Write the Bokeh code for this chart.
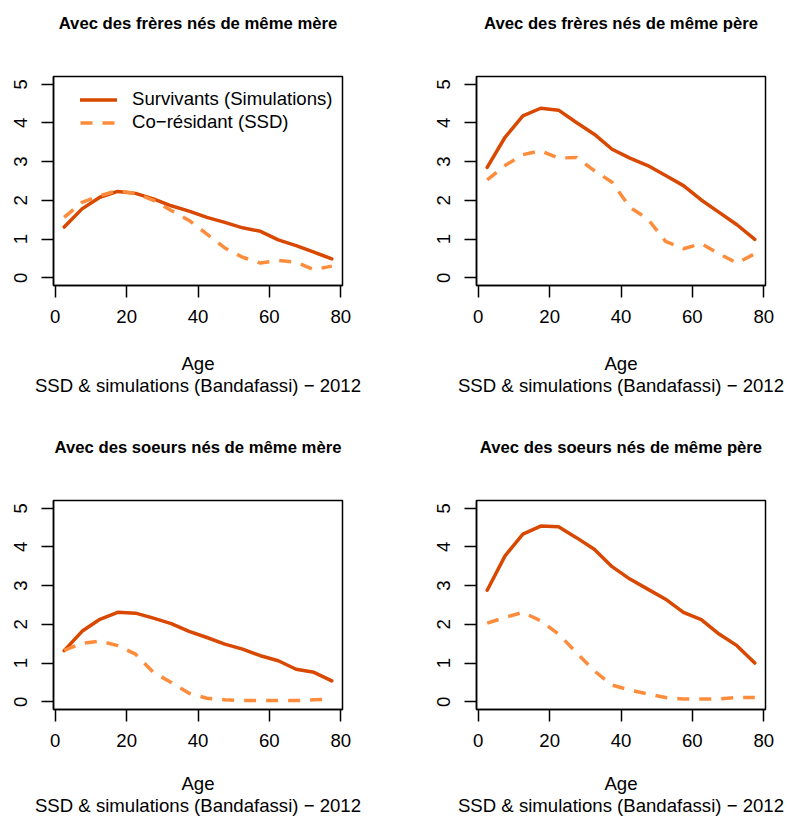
from bokeh.plotting import figure
from bokeh.models import Range1d, FixedTicker, Legend, LegendItem, LinearAxis
from bokeh.layouts import column, row
from bokeh.embed import file_html
from bokeh.resources import INLINE

ages = [2.5, 7.5, 12.5, 17.5, 22.5, 27.5, 32.5, 37.5, 42.5, 47.5, 52.5, 57.5, 62.5, 67.5, 72.5, 77.5]

freres_mere_surv = [1.31, 1.78, 2.08, 2.23, 2.18, 2.04, 1.86, 1.72, 1.56, 1.43, 1.29, 1.20, 0.98, 0.83, 0.66, 0.49]
freres_mere_cores = [1.56, 1.95, 2.12, 2.25, 2.18, 2.00, 1.74, 1.48, 1.13, 0.77, 0.53, 0.38, 0.45, 0.40, 0.21, 0.30]

freres_pere_surv = [2.85, 3.63, 4.18, 4.38, 4.33, 4.01, 3.71, 3.32, 3.09, 2.90, 2.64, 2.38, 2.01, 1.69, 1.37, 0.99]
freres_pere_cores = [2.53, 2.90, 3.18, 3.28, 3.09, 3.11, 2.77, 2.47, 1.82, 1.52, 0.94, 0.75, 0.88, 0.62, 0.38, 0.62]

soeurs_mere_surv = [1.32, 1.82, 2.13, 2.31, 2.29, 2.16, 2.02, 1.82, 1.66, 1.49, 1.36, 1.19, 1.06, 0.84, 0.76, 0.54]
soeurs_mere_cores = [1.33, 1.51, 1.57, 1.45, 1.23, 0.76, 0.50, 0.22, 0.09, 0.05, 0.03, 0.03, 0.03, 0.03, 0.05, 0.07]

soeurs_pere_surv = [2.88, 3.77, 4.33, 4.54, 4.52, 4.24, 3.94, 3.49, 3.17, 2.91, 2.65, 2.31, 2.12, 1.75, 1.45, 1.00]
soeurs_pere_cores = [2.03, 2.18, 2.31, 2.09, 1.75, 1.27, 0.80, 0.43, 0.30, 0.20, 0.11, 0.07, 0.07, 0.07, 0.11, 0.11]

titles = [
    "Avec des frères nés de même mère",
    "Avec des frères nés de même père",
    "Avec des soeurs nés de même mère",
    "Avec des soeurs nés de même père",
]
series_names = ["Survivants (Simulations)", "Co−résidant (SSD)"]
x_label = "Age"
source_label = "SSD & simulations (Bandafassi) − 2012"
x_ticks = [0, 20, 40, 60, 80]
y_ticks = [0, 1, 2, 3, 4, 5]

DARK = "#D94801"
LIGHT = "#FD8D3C"
FONT = "Liberation Sans"
TXT = "18.6px"


def text_axis(label, size, style, standoff):
    ax = LinearAxis(ticker=FixedTicker(ticks=[]), axis_label=label,
                    axis_line_color=None, major_tick_out=0, major_tick_in=0,
                    minor_tick_out=0, minor_tick_in=0, major_label_standoff=0,
                    axis_label_standoff=standoff, axis_label_text_font=FONT,
                    axis_label_text_font_size=size, axis_label_text_font_style=style,
                    axis_label_text_color="black")
    return ax


def panel(title, surv, cores, width, height, right, bottom, age_standoff, src_standoff, legend=False):
    p = figure(width=width, height=height, output_backend="svg", toolbar_location=None,
               x_range=Range1d(-0.5, 80.5), y_range=Range1d(-0.2, 5.2),
               min_border_left=53, min_border_right=right, min_border_top=76,
               min_border_bottom=bottom, background_fill_color="white",
               border_fill_color="white")
    p.grid.visible = False
    p.outline_line_color = "black"
    p.outline_line_width = 1.5
    for ax in (p.xaxis[0], p.yaxis[0]):
        ax.axis_line_color = "black"
        ax.axis_line_width = 1.5
        ax.major_tick_line_color = "black"
        ax.major_tick_line_width = 1.5
        ax.major_tick_out = 12
        ax.major_tick_in = 0
        ax.minor_tick_line_color = None
        ax.minor_tick_out = 0
        ax.major_label_text_font = FONT
        ax.major_label_text_font_size = TXT
        ax.major_label_text_color = "black"
        ax.major_label_standoff = 12
    p.xaxis[0].ticker = FixedTicker(ticks=x_ticks)
    p.yaxis[0].ticker = FixedTicker(ticks=y_ticks)
    p.yaxis[0].major_label_orientation = "vertical"
    p.yaxis[0].major_label_standoff = 14

    xa = p.xaxis[0]
    xa.axis_label = x_label
    xa.axis_label_standoff = age_standoff
    xa.axis_label_text_font = FONT
    xa.axis_label_text_font_size = TXT
    xa.axis_label_text_font_style = "normal"
    xa.axis_label_text_color = "black"

    p.add_layout(text_axis(source_label, TXT, "normal", src_standoff), "below")
    p.add_layout(text_axis(title, "16.7px", "bold", 44), "above")

    r1 = p.line(ages, surv, line_color=DARK, line_width=3.5, line_join="round", line_cap="round")
    r2 = p.line(ages, cores, line_color=LIGHT, line_width=3.5, line_dash="12 10",
                line_join="round", line_cap="butt")

    if legend:
        lg = Legend(items=[LegendItem(label=series_names[0], renderers=[r1]),
                           LegendItem(label=series_names[1], renderers=[r2])],
                    location=(27, 151.5), padding=0, margin=0, spacing=0,
                    glyph_width=37, glyph_height=23, label_height=23, label_standoff=15,
                    label_text_font=FONT, label_text_font_size=TXT, label_text_color="black",
                    border_line_color=None, background_fill_alpha=0)
        p.add_layout(lg, "center")
    return p


p1 = panel(titles[0], freres_mere_surv, freres_mere_cores, 423, 424, 81, 139, 27, -2, legend=True)
p2 = panel(titles[1], freres_pere_surv, freres_pere_cores, 364, 424, 22, 139, 27, -2)
p3 = panel(titles[2], soeurs_mere_surv, soeurs_mere_cores, 423, 394, 81, 109, 23, -2)
p4 = panel(titles[3], soeurs_pere_surv, soeurs_pere_cores, 364, 394, 22, 109, 23, -2)

layout = column(row(p1, p2, spacing=0), row(p3, p4, spacing=0), spacing=0)

open("out.html", "w").write(file_html(layout, INLINE))
